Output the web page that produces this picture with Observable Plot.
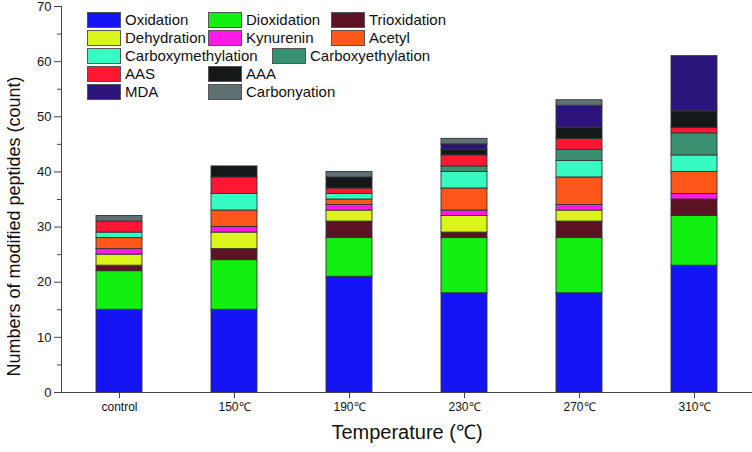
<!DOCTYPE html>
<html><head><meta charset="utf-8">
<script src="https://cdn.jsdelivr.net/npm/d3@7"></script>
<script src="https://cdn.jsdelivr.net/npm/@observablehq/plot@0.6"></script>
<style>
body{margin:0;background:#fff;}
#wrap{position:relative;width:752px;height:452px;font-family:"Liberation Sans",Arial,sans-serif;}
#wrap svg{position:absolute;left:0;top:0;}
.leg{position:absolute;display:flex;align-items:center;font-size:15px;color:#111;white-space:nowrap;line-height:16px;}
.sw{width:34px;height:16px;border:1px solid #555;box-sizing:border-box;margin-right:4px;}
</style></head>
<body><div id="wrap"></div>
<script>
const categories = ["control", "150℃", "190℃", "230℃", "270℃", "310℃"];
const series = ["Oxidation","Dioxidation","Trioxidation","Dehydration","Kynurenin","Acetyl",
  "Carboxymethylation","Carboxyethylation","AAS","AAA","MDA","Carbonyation"];
const colors = ["#1414F5","#12F012","#5B1222","#DAF51A","#FF1AE6","#FF5719",
  "#36FCC2","#3A9172","#FF1733","#141819","#2C157A","#5F7073"];
const oxidation          = [15, 15, 21, 18, 18, 23];
const dioxidation        = [ 7,  9,  7, 10, 10,  9];
const trioxidation       = [ 1,  2,  3,  1,  3,  3];
const dehydration        = [ 2,  3,  2,  3,  2,  0];
const kynurenin          = [ 1,  1,  1,  1,  1,  1];
const acetyl             = [ 2,  3,  1,  4,  5,  4];
const carboxymethylation = [ 1,  3,  1,  3,  3,  3];
const carboxyethylation  = [ 0,  0,  0,  1,  2,  4];
const aas                = [ 2,  3,  1,  2,  2,  1];
const aaa                = [ 0,  2,  2,  1,  2,  3];
const mda                = [ 0,  0,  0,  1,  4, 10];
const carbonyation       = [ 1,  0,  1,  1,  1,  0];
const yTicks = [0, 10, 20, 30, 40, 50, 60, 70];
const yMinorTicks = [5, 15, 25, 35, 45, 55, 65];

const values = [oxidation, dioxidation, trioxidation, dehydration, kynurenin, acetyl,
  carboxymethylation, carboxyethylation, aas, aaa, mda, carbonyation];

const rows = [];
categories.forEach((c, i) => series.forEach((s, j) => {
  if (values[j][i] > 0) rows.push({cat: c, series: s, value: values[j][i]});
}));

const chart = Plot.plot({
  width: 752, height: 452,
  marginLeft: 61, marginRight: 0, marginTop: 6, marginBottom: 60,
  style: {fontFamily: "Liberation Sans, Arial, sans-serif", background: "transparent", color: "#111"},
  x: {domain: categories, paddingInner: 0.6, paddingOuter: 0.3, label: null},
  y: {domain: [0, 70], label: null},
  color: {domain: series, range: colors},
  marks: [
    Plot.barY(rows, {x: "cat", y: "value", fill: "series", stroke: "#333", strokeWidth: 0.9}),
    Plot.ruleY([0], {stroke: "#444"}),
    Plot.frame({anchor: "left", stroke: "#444"}),
    Plot.axisY({ticks: yTicks, tickSize: 7, tickPadding: 3, fontSize: 13, label: null, stroke: "#444"}),
    Plot.axisY({ticks: yMinorTicks, tickSize: 4, text: null, label: null, stroke: "#444"}),
    Plot.axisX({tickSize: 6, tickPadding: 4, fontSize: 12, label: null, stroke: "#444"}),
    Plot.text(["Numbers of modified peptides (count)"], {text: d => d, frameAnchor: "left", textAnchor: "middle", rotate: -90, dx: -47, dy: 27, fontSize: 18}),
    Plot.text(["Temperature (℃)"], {text: d => d, frameAnchor: "bottom", dy: 46, fontSize: 20})
  ]
});
const wrap = document.getElementById("wrap");
wrap.appendChild(chart);

// legend overlay (layout: series index, left, top)
const legendLayout = [
  [0, 87, 12], [1, 208, 12], [2, 331, 12],
  [3, 87, 30], [4, 208, 30], [5, 331, 30],
  [6, 87, 48], [7, 272, 48],
  [8, 87, 66], [9, 208, 66],
  [10, 87, 84], [11, 208, 84]
];
legendLayout.forEach(([j, left, top]) => {
  const d = document.createElement("div");
  d.className = "leg";
  d.style.left = left + "px";
  d.style.top = top + "px";
  const sw = document.createElement("div");
  sw.className = "sw";
  sw.style.background = colors[j];
  const t = document.createElement("span");
  t.textContent = series[j];
  d.appendChild(sw); d.appendChild(t);
  wrap.appendChild(d);
});
</script>
</body></html>
